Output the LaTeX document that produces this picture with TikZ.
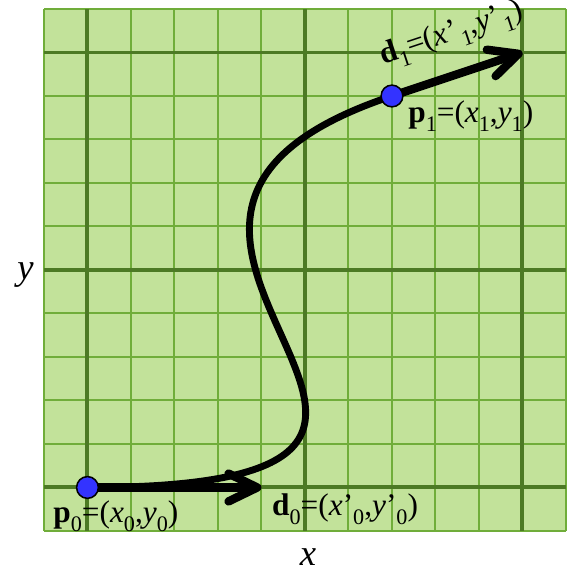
\documentclass[tikz,border=0pt]{standalone}
\usepackage{fontspec}
\setmainfont{Liberation Serif}
\usetikzlibrary{arrows.meta}
\definecolor{gridfill}{RGB}{194,226,154}
\definecolor{gridminor}{RGB}{112,173,58}
\definecolor{gridmajor}{RGB}{76,122,36}
\definecolor{ptblue}{RGB}{51,51,255}
\newcommand\sbs[1]{\raisebox{-6pt}{\fontsize{14.5}{15}\selectfont #1}}
\begin{document}
\begin{tikzpicture}[x=1cm,y=1cm,
  minorline/.style={gridminor, line width=1.3pt},
  majorline/.style={gridmajor, line width=2.6pt},
  curveline/.style={black, line width=4.5pt},
  vecarrow/.style={black, line width=5.5pt, line cap=round,
    -{Straight Barb[length=6.6mm, width=6.4mm, round]}},
  pt/.style={circle, draw=black, line width=1pt, fill=ptblue, minimum size=0.5cm, inner sep=0pt},
  lbl/.style={inner sep=0pt, font=\fontsize{20.5}{24}\selectfont},
  axislbl/.style={inner sep=0pt, font=\fontsize{24}{28}\selectfont}]
\useasboundingbox (-2.011,-1.897) rectangle (11.069,11.207);
\fill[gridfill] (-1,-1) rectangle (11,11);
\draw[minorline] (-1,-1) grid (11,11);
\foreach \v in {0,5,10} {
  \draw[majorline] (\v,-1) -- (\v,11);
  \draw[majorline] (-1,\v) -- (11,\v);
}
\coordinate (p0c) at (0,0);
\coordinate (p1c) at (7,9);
\coordinate (c0) at (11.7,0);
\coordinate (c1) at (-2,6);
\coordinate (d0tip) at (4,0);
\coordinate (d1tip) at (10,10);
\draw[curveline] (p0c) .. controls (c0) and (c1) .. (p1c);
\draw[vecarrow] (p0c) -- (d0tip);
\draw[vecarrow] (p1c) -- (d1tip);
\node[pt] (p0) at (p0c) {};
\node[pt] (p1) at (p1c) {};
\node[lbl, anchor=south west] (p0lbl) at (-0.79,-1.02)
  {\textbf{p}\sbs{0}=(\textit{x}\sbs{0},\textit{y}\sbs{0})};
\node[lbl, anchor=south west] (d0lbl) at (4.24,-0.86)
  {\textbf{d}\sbs{0}=(\textit{x}'\sbs{0},\textit{y}'\sbs{0})};
\node[lbl, anchor=south west] (p1lbl) at (7.37,8.17)
  {\textbf{p}\sbs{1}=(\textit{x}\sbs{1},\textit{y}\sbs{1})};
\node[lbl, anchor=south west, rotate=18.43] (d1lbl) at (6.86,9.52)
  {\textbf{d}\sbs{1}=(\textit{x}'\kern1pt\sbs{1},\textit{y}'\kern1pt\sbs{1})};
\node[axislbl, anchor=base] (ylbl) at (-1.425,4.79) {\textit{y}};
\node[axislbl, anchor=base] (xlbl) at (5.07,-1.79) {\textit{x}};
\end{tikzpicture}
\end{document}
